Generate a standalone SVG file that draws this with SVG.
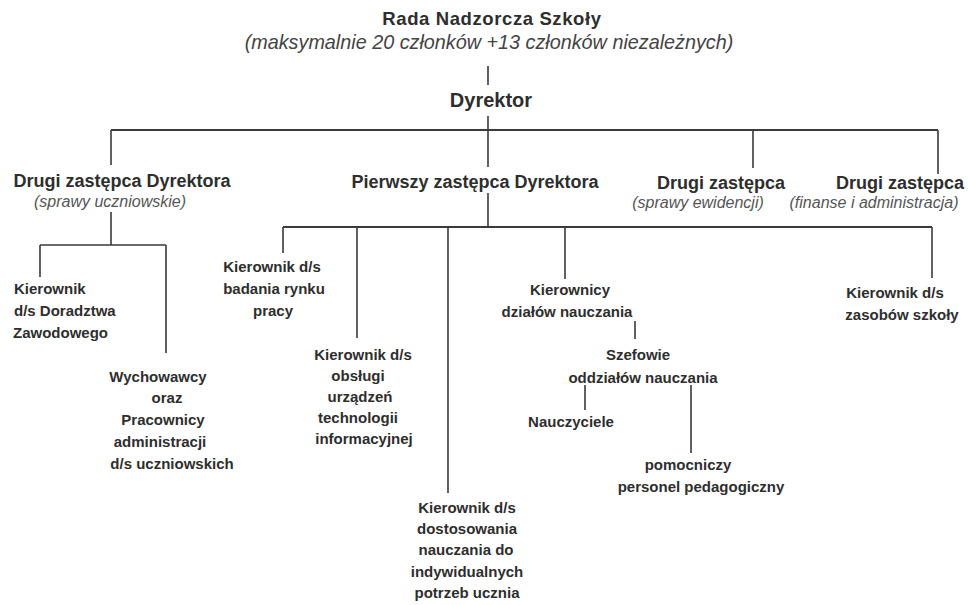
<svg xmlns="http://www.w3.org/2000/svg" width="968" height="605" viewBox="0 0 968 605">
<style>
text{font-family:"Liberation Sans",Arial,sans-serif;fill:#2e2e2e;text-anchor:middle}
.t{font-size:18.5px;font-weight:bold;letter-spacing:0.6px}
.st{font-size:19.8px;font-style:italic;fill:#444}
.d{font-size:20px;font-weight:bold}
.h{font-size:18px;font-weight:bold}
.s{font-size:16px;font-style:italic;fill:#555}
.n{font-size:15px;font-weight:bold}
.l{text-anchor:start}
.c path{fill:none;stroke:#3a3a3a;stroke-width:1.6}
.c .b{stroke-width:2}
</style>
<rect width="968" height="605" fill="#fff"/>
<g class="c" id="connectors">
<path d="M488,66V85"/>
<path d="M488,116V130"/>
<path class="b" d="M111,130H938"/>
<path d="M111,130V165"/>
<path d="M488,130V167"/>
<path d="M753,130V168"/>
<path d="M938,130V174"/>
<path d="M111,212V245"/>
<path d="M40,245H166"/>
<path d="M40,245V277"/>
<path d="M166,245V353"/>
<path d="M488,193V227"/>
<path class="b" d="M283,227H932"/>
<path d="M283,227V253"/>
<path d="M357,227V338"/>
<path d="M448,227V493"/>
<path d="M565,227V279"/>
<path d="M932,227V278"/>
<path d="M635,321V339"/>
<path d="M585,385V410"/>
<path d="M691,385V453"/>
</g>
<g id="rada">
<text class="t" x="492" y="25">Rada Nadzorcza Szkoły</text>
<text class="st" x="489" y="49">(maksymalnie 20 członków +13 członków niezależnych)</text>
</g>
<g id="dyrektor"><text class="d" x="491" y="107">Dyrektor</text></g>
<g id="drugi-uczniowskie">
<text class="h" x="122" y="187">Drugi zastępca Dyrektora</text>
<text class="s" x="110" y="207">(sprawy uczniowskie)</text>
</g>
<g id="pierwszy"><text class="h" x="475" y="188">Pierwszy zastępca Dyrektora</text></g>
<g id="drugi-ewidencja">
<text class="h" x="721" y="189">Drugi zastępca</text>
<text class="s" x="698" y="208">(sprawy ewidencji)</text>
</g>
<g id="drugi-finanse">
<text class="h" x="900" y="189">Drugi zastępca</text>
<text class="s" x="874" y="208">(finanse i administracja)</text>
</g>
<g id="doradztwo">
<text class="n l" x="14" y="294">Kierownik</text>
<text class="n l" x="14" y="316">d/s Doradztwa</text>
<text class="n l" x="13" y="338">Zawodowego</text>
</g>
<g id="wychowawcy">
<text class="n" x="158" y="382">Wychowawcy</text>
<text class="n" x="167" y="403">oraz</text>
<text class="n" x="163" y="425">Pracownicy</text>
<text class="n" x="160" y="447">administracji</text>
<text class="n" x="172" y="469">d/s uczniowskich</text>
</g>
<g id="rynek">
<text class="n" x="272" y="272">Kierownik d/s</text>
<text class="n" x="274" y="294">badania rynku</text>
<text class="n" x="273" y="316">pracy</text>
</g>
<g id="it">
<text class="n" x="363" y="360">Kierownik d/s</text>
<text class="n" x="358" y="381">obsługi</text>
<text class="n" x="360" y="402">urządzeń</text>
<text class="n" x="358" y="423">technologii</text>
<text class="n" x="364" y="444">informacyjnej</text>
</g>
<g id="dostosowanie">
<text class="n" x="467" y="513">Kierownik d/s</text>
<text class="n" x="467" y="534">dostosowania</text>
<text class="n" x="466" y="555">nauczania do</text>
<text class="n" x="467" y="577">indywidualnych</text>
<text class="n" x="467" y="598">potrzeb ucznia</text>
</g>
<g id="kierownicy">
<text class="n" x="570" y="295">Kierownicy</text>
<text class="n" x="567" y="317">działów nauczania</text>
</g>
<g id="szefowie">
<text class="n" x="638" y="360">Szefowie</text>
<text class="n" x="643" y="383">oddziałów nauczania</text>
</g>
<g id="nauczyciele"><text class="n" x="571" y="427">Nauczyciele</text></g>
<g id="pomocniczy">
<text class="n" x="688" y="470">pomocniczy</text>
<text class="n" x="701" y="492">personel pedagogiczny</text>
</g>
<g id="zasoby">
<text class="n" x="895" y="298">Kierownik d/s</text>
<text class="n" x="902" y="320">zasobów szkoły</text>
</g>
</svg>
